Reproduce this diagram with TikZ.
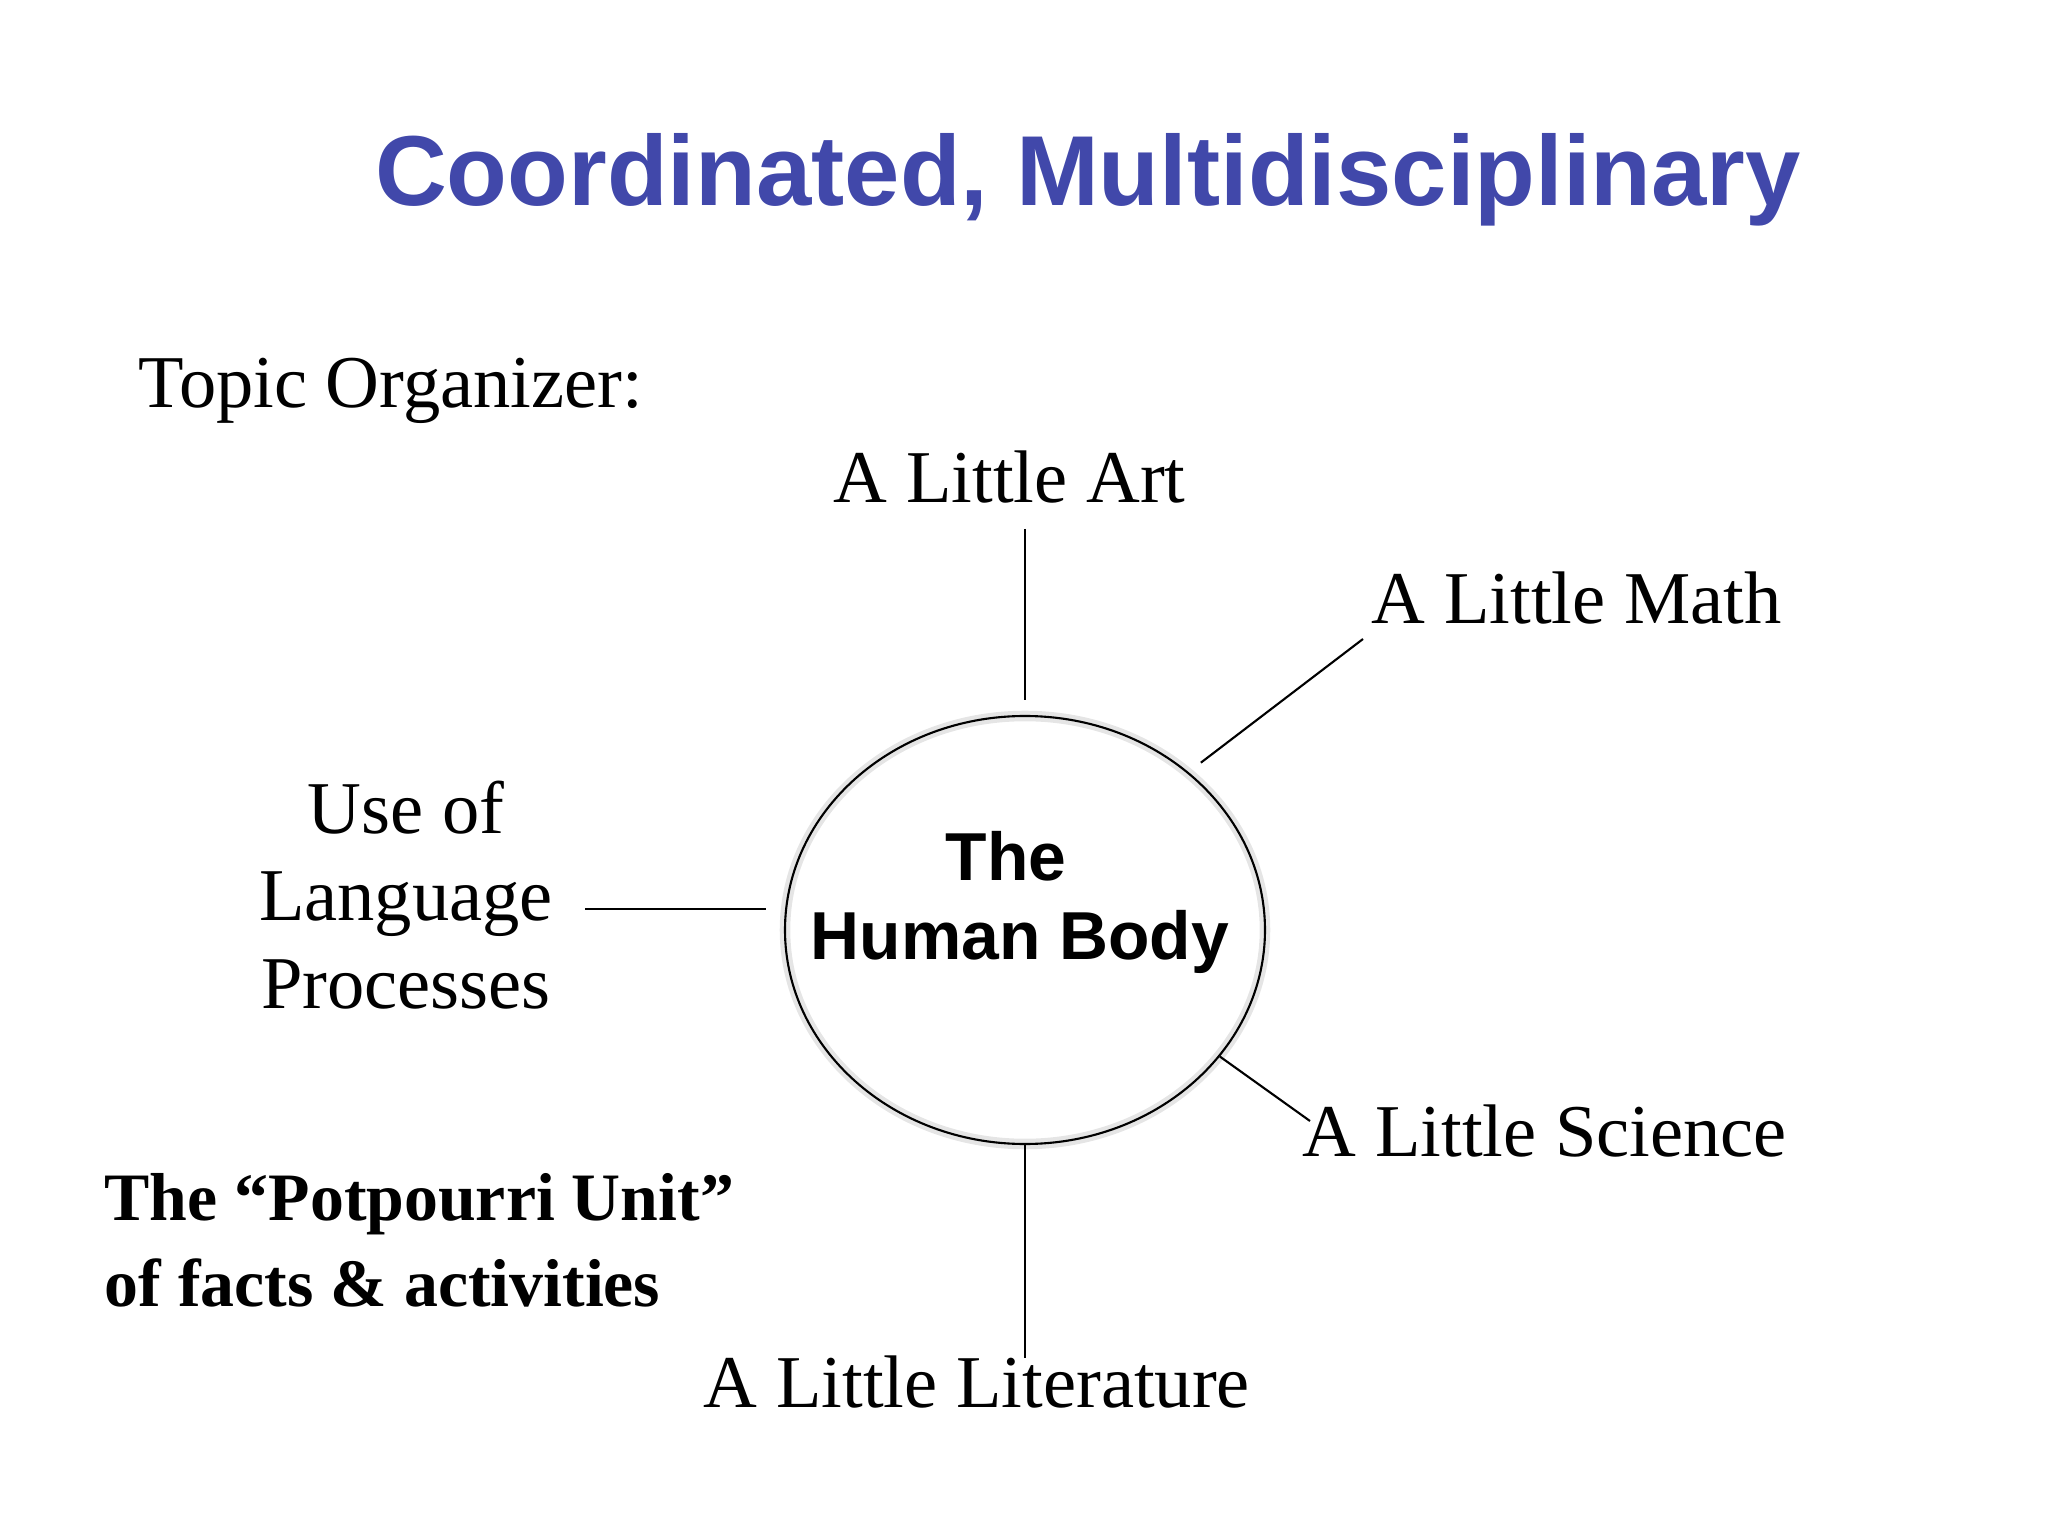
\documentclass[tikz,border=0pt]{standalone}
\usepackage{fontspec}
\setmainfont{Liberation Serif}
\setsansfont{Liberation Sans}
\usetikzlibrary{shapes.geometric}
\definecolor{titleblue}{RGB}{65,72,170}

\begin{document}
\begin{tikzpicture}[
    every node/.style={inner sep=0pt},
    serif/.style={font=\fontsize{21.2}{25}\selectfont},
    link/.style={draw, line width=0.6pt}]
  \useasboundingbox (0,0) rectangle (20.48,-15.36);

  \node[anchor=base, text=titleblue, font=\sffamily\bfseries\fontsize{28.3}{34}\selectfont] (title) at (10.88,-2.06) {Coordinated, Multidisciplinary};
  \node[serif, anchor=base west] (topic) at (1.38,-4.07) {Topic Organizer:};

  % centre of the organizer
  \node[ellipse, draw, line width=0.6pt, minimum width=4.8cm, minimum height=4.28cm,
        preaction={draw=black!10, line width=3pt}] (body) at (10.25,-9.30) {};
  \node[align=center, font=\sffamily\bfseries\fontsize{19.3}{22.5}\selectfont] (bodytext) at (10.2,-9.02) {The\hspace*{8pt}\\Human Body};

  % the subjects round it
  \node[serif, anchor=base west] (art) at (8.33,-5.03) {A Little Art};
  \node[serif, anchor=base west] (math) at (13.71,-6.23) {A Little Math};
  \node[serif, align=center] (lang) at (4.06,-8.95) {Use of\\Language\\Processes};
  \node[serif, anchor=base west] (sci) at (13.02,-11.56) {A Little Science};
  \node[serif, anchor=base west] (lit) at (7.03,-14.07) {A Little Literature};

  \node[align=left, anchor=base west, font=\bfseries\fontsize{19.3}{24.2}\selectfont] (potpourri) at (1.04,-13.06)
    {The “Potpourri Unit”\\of facts \& activities};

  \coordinate (artEnd) at (10.25,-5.29);
  \coordinate (mathEnd) at (13.63,-6.39);
  \coordinate (langEnd) at (5.85,-9.09);
  \coordinate (sciEnd) at (13.10,-11.21);
  \coordinate (litEnd) at (10.25,-13.58);

  \draw[link, shorten >=4.3pt] (artEnd) -- (body.north);
  \draw[link, shorten >=4.4pt] (mathEnd) -- (body.44);
  \draw[link, shorten >=5.1pt] (langEnd) -- (langEnd -| body.west);
  \draw[link] (body.-33) -- (sciEnd);
  \draw[link] (body.south) -- (litEnd);
\end{tikzpicture}
\end{document}
